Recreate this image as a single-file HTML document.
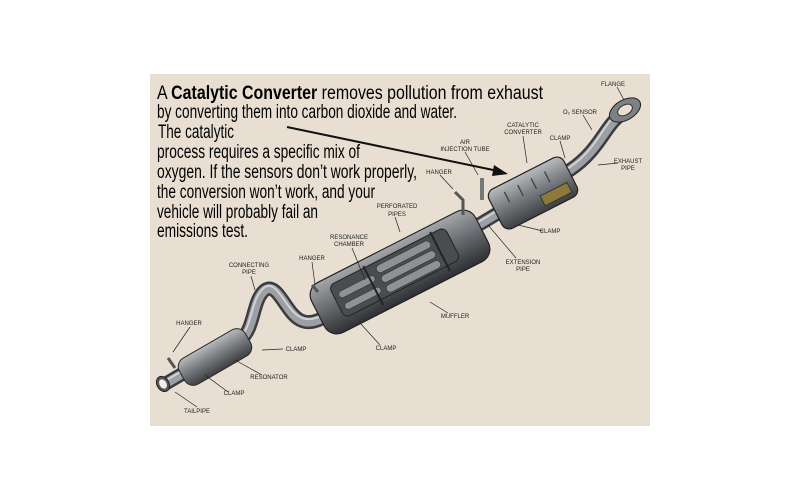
<!DOCTYPE html>
<html><head><meta charset="utf-8"><style>
html,body{margin:0;padding:0;background:#fff;}
svg{display:block}
.l{font-family:"Liberation Sans",sans-serif;font-size:6px;fill:#222;text-anchor:middle}
.t{font-family:"Liberation Sans",sans-serif;font-size:19px;fill:#000}
</style></head><body>
<svg width="800" height="500" viewBox="0 0 800 500" xmlns="http://www.w3.org/2000/svg">
<defs>
<linearGradient id="pg" x1="0" y1="0" x2="0" y2="1">
<stop offset="0" stop-color="#b9bbbd"/><stop offset="0.45" stop-color="#7c7f83"/><stop offset="1" stop-color="#3d3f42"/></linearGradient>
<linearGradient id="bg" x1="0" y1="0" x2="0" y2="1">
<stop offset="0" stop-color="#a4a6a9"/><stop offset="0.5" stop-color="#66696d"/><stop offset="1" stop-color="#2e3033"/></linearGradient>
</defs>
<rect x="150" y="74" width="500" height="352" fill="#e8dfd2"/>
<g fill="none" stroke-linecap="round">
<path d="M165 384 L240 340 C255 330 252 300 265 290 C278 282 285 312 300 320 C315 328 330 312 345 305 L520 200 L570 170 C600 150 605 125 622 114" stroke="#3a3c3f" stroke-width="14"/>
<path d="M165 384 L240 340 C255 330 252 300 265 290 C278 282 285 312 300 320 C315 328 330 312 345 305 L520 200 L570 170 C600 150 605 125 622 114" stroke="#9c9fa3" stroke-width="9"/>
<path d="M165 381 L240 337 C253 327 250 298 265 287 C278 280 285 309 300 317 C315 325 330 309 345 302 L520 197 L570 167 C598 148 603 123 620 111" stroke="#d0d2d4" stroke-width="2"/>
</g>
<g transform="translate(215,357) rotate(-30)">
<rect x="-38" y="-15" width="76" height="30" rx="10" fill="url(#pg)" stroke="#2a2a2a" stroke-width="1"/>
</g>
<ellipse cx="163" cy="384" rx="6" ry="8" fill="#555" stroke="#222" transform="rotate(-30 163 384)"/>
<ellipse cx="163" cy="384" rx="3.5" ry="5" fill="#eee" transform="rotate(-30 163 384)"/>
<g transform="translate(400,272) rotate(-27)">
<rect x="-92" y="-28" width="184" height="56" rx="14" fill="url(#bg)" stroke="#222" stroke-width="1.2"/>
<rect x="-70" y="-20" width="130" height="36" rx="6" fill="#4a4c50" stroke="#222"/>
<g fill="#8e9196" stroke="#333" stroke-width="0.6">
<rect x="-20" y="-16" width="60" height="8" rx="4"/><rect x="-20" y="-5" width="60" height="8" rx="4"/><rect x="-20" y="6" width="60" height="8" rx="4"/>
<rect x="-65" y="-10" width="40" height="7" rx="3.5"/><rect x="-65" y="3" width="40" height="7" rx="3.5"/>
</g>
<line x1="-30" y1="-22" x2="-30" y2="22" stroke="#222" stroke-width="2"/>
<line x1="45" y1="-22" x2="45" y2="22" stroke="#222" stroke-width="2"/>
</g>
<g transform="translate(533,193) rotate(-27)">
<rect x="-42" y="-22" width="84" height="44" rx="8" fill="url(#pg)" stroke="#222" stroke-width="1.2"/>
<g stroke="#444" stroke-width="1.4"><line x1="-25" y1="-14" x2="-25" y2="-2"/><line x1="-10" y1="-14" x2="-10" y2="-2"/><line x1="5" y1="-14" x2="5" y2="-2"/><line x1="20" y1="-14" x2="20" y2="-2"/></g>
<rect x="5" y="6" width="30" height="11" fill="#8b7a3a" stroke="#333"/>
</g>
<ellipse cx="625" cy="110" rx="17" ry="10" fill="#7d8085" stroke="#222" transform="rotate(-30 625 110)"/>
<ellipse cx="625" cy="110" rx="8" ry="5" fill="#e8dfd2" stroke="#333" transform="rotate(-30 625 110)"/>
<path d="M455 192 L463 200 L463 215" stroke="#555" stroke-width="3" fill="none"/>
<path d="M482 178 L482 200" stroke="#777" stroke-width="4"/>
<path d="M312 285 L318 292" stroke="#555" stroke-width="3"/>
<path d="M168 358 L175 368" stroke="#555" stroke-width="3"/>
<g stroke="#222" stroke-width="0.7" fill="none">
<line x1="617" y1="87" x2="624" y2="100"/><line x1="583" y1="115" x2="592" y2="130"/>
<line x1="523" y1="136" x2="527" y2="163"/><line x1="560" y1="141" x2="565" y2="158"/>
<line x1="465" y1="152" x2="478" y2="175"/><line x1="618" y1="163" x2="598" y2="165"/>
<line x1="440" y1="175" x2="453" y2="189"/><line x1="395" y1="217" x2="400" y2="232"/>
<line x1="543" y1="231" x2="518" y2="225"/><line x1="352" y1="248" x2="365" y2="280"/>
<line x1="516" y1="258" x2="488" y2="225"/><line x1="312" y1="262" x2="315" y2="285"/>
<line x1="251" y1="276" x2="255" y2="290"/><line x1="448" y1="313" x2="430" y2="302"/>
<line x1="190" y1="327" x2="173" y2="352"/><line x1="283" y1="349" x2="262" y2="350"/>
<line x1="380" y1="345" x2="360" y2="323"/><line x1="262" y1="375" x2="235" y2="360"/>
<line x1="228" y1="392" x2="205" y2="375"/><line x1="197" y1="407" x2="175" y2="392"/>
</g>
<g class="l">
<text x="613" y="86">FLANGE</text><text x="580" y="114">O₂ SENSOR</text>
<text x="523" y="127">CATALYTIC</text><text x="523" y="134">CONVERTER</text>
<text x="560" y="140">CLAMP</text><text x="465" y="144">AIR</text><text x="465" y="151">INJECTION TUBE</text>
<text x="628" y="163">EXHAUST</text><text x="628" y="170">PIPE</text>
<text x="439" y="174">HANGER</text><text x="397" y="208">PERFORATED</text><text x="397" y="216">PIPES</text>
<text x="550" y="233">CLAMP</text><text x="349" y="239">RESONANCE</text><text x="349" y="246">CHAMBER</text>
<text x="523" y="264">EXTENSION</text><text x="523" y="271">PIPE</text>
<text x="312" y="260">HANGER</text><text x="249" y="267">CONNECTING</text><text x="249" y="274">PIPE</text>
<text x="455" y="318">MUFFLER</text><text x="189" y="325">HANGER</text>
<text x="296" y="351">CLAMP</text><text x="386" y="350">CLAMP</text>
<text x="269" y="379">RESONATOR</text><text x="234" y="395">CLAMP</text><text x="197" y="413">TAILPIPE</text>
</g>
<g class="t">
<text x="157" y="99" textLength="386" lengthAdjust="spacingAndGlyphs">A <tspan font-weight="bold">Catalytic Converter</tspan> removes pollution from exhaust</text>
<text x="157" y="118" textLength="300" lengthAdjust="spacingAndGlyphs">by converting them into carbon dioxide and water.</text>
<text x="158" y="138" textLength="76" lengthAdjust="spacingAndGlyphs">The catalytic</text>
<text x="157" y="158" textLength="203" lengthAdjust="spacingAndGlyphs">process requires a specific mix of</text>
<text x="157" y="178" textLength="260" lengthAdjust="spacingAndGlyphs">oxygen.  If the sensors don’t work properly,</text>
<text x="157" y="198" textLength="218" lengthAdjust="spacingAndGlyphs">the conversion won’t work, and your</text>
<text x="157" y="218" textLength="161" lengthAdjust="spacingAndGlyphs">vehicle will probably fail an</text>
<text x="157" y="237" textLength="91" lengthAdjust="spacingAndGlyphs">emissions test.</text>
</g>
<line x1="287" y1="127" x2="498" y2="171" stroke="#111" stroke-width="2"/>
<polygon points="508,174 494,165 492,176" fill="#111"/>
</svg>
</body></html>
